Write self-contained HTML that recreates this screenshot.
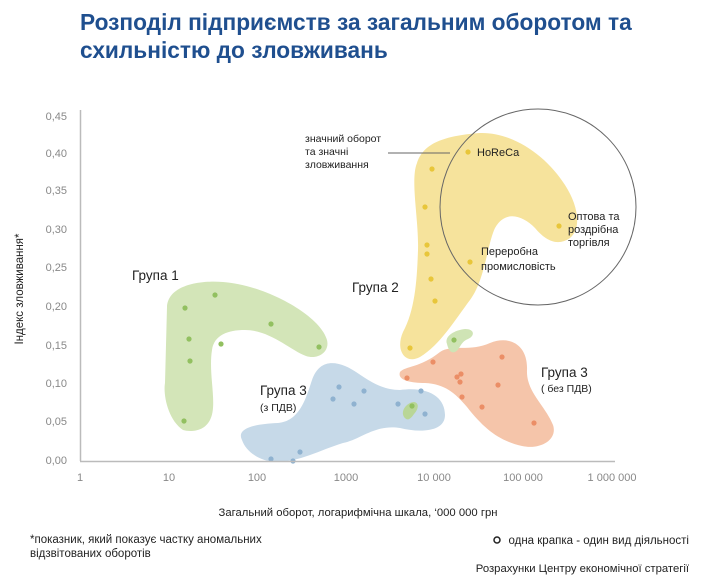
<!DOCTYPE html>
<html><head><meta charset="utf-8">
<style>
html,body{margin:0;padding:0;background:#fff;}
svg{display:block;font-family:"Liberation Sans",sans-serif;}
</style></head><body>
<svg width="720" height="585" viewBox="0 0 720 585" xmlns="http://www.w3.org/2000/svg">
<rect width="720" height="585" fill="#fff"/>
<text x="80" y="30" font-size="22.7" font-weight="bold" fill="#1f4f8f">Розподіл підприємств за загальним оборотом  та</text>
<text x="80" y="58" font-size="22.7" font-weight="bold" fill="#1f4f8f">схильністю до зловживань</text>

<path d="M167,307 C168,285 200,280 223,282 C265,285 320,315 327,340 C330,352 318,360 306,356 C290,350 270,330 245,330 C228,330 214,335 212,350 C208,375 218,405 210,420 C204,432 190,432 183,430 C168,420 163,395 165,383 Z" fill="#d3e5b8"/>
<path d="M242,440 C236,428 255,424 278,423 C300,421 306,398 312,380 C318,363 330,360 345,366 C360,372 375,390 400,390 C430,386 445,398 445,415 C445,432 420,433 400,428 C375,424 360,440 343,443 C320,450 300,462 275,462 C260,461 246,452 242,440 Z" fill="#c6d9e8"/>
<path d="M403,332 C415,310 417,280 418,250 C419,220 410,180 417,163 C423,145 440,136 480,133 C515,132 548,158 565,185 C578,205 582,228 570,238 C557,247 545,240 535,228 C522,215 505,210 495,228 C487,245 485,280 470,300 C455,320 440,345 420,357 C405,365 395,350 403,332 Z" fill="#f6e39c"/>
<path d="M400,372 C405,366 420,368 440,352 C452,344 470,352 490,343 C510,335 528,345 527,370 C526,392 545,405 553,425 C558,440 540,450 522,446 C500,441 485,430 467,407 C455,393 445,384 425,383 C410,383 397,380 400,372 Z" fill="#f5c5aa"/>
<path d="M447,344 C444,336 455,330 465,329 C475,329 475,336 468,339 C460,342 460,350 455,352 C450,354 448,348 447,344 Z" fill="#cfe4b5"/>
<path d="M404,417 C400,410 408,402 414,402 C420,403 418,410 414,414 C410,420 407,421 404,417 Z" fill="#b9d697"/>

<circle cx="538" cy="207" r="98" fill="none" stroke="#666" stroke-width="1"/>
<line x1="388" y1="153" x2="450" y2="153" stroke="#666" stroke-width="1"/>

<g fill="#92c060">
<circle cx="185" cy="308" r="2.6"/><circle cx="215" cy="295" r="2.6"/><circle cx="189" cy="339" r="2.6"/><circle cx="221" cy="344" r="2.6"/><circle cx="190" cy="361" r="2.6"/><circle cx="271" cy="324" r="2.6"/><circle cx="319" cy="347" r="2.6"/><circle cx="184" cy="421" r="2.6"/><circle cx="412" cy="406" r="2.6"/><circle cx="454" cy="340" r="2.6"/>
</g>
<g fill="#e8c63a">
<circle cx="468" cy="152" r="2.6"/><circle cx="432" cy="169" r="2.6"/><circle cx="425" cy="207" r="2.6"/><circle cx="427" cy="245" r="2.6"/><circle cx="427" cy="254" r="2.6"/><circle cx="431" cy="279" r="2.6"/><circle cx="435" cy="301" r="2.6"/><circle cx="410" cy="348" r="2.6"/><circle cx="470" cy="262" r="2.6"/><circle cx="559" cy="226" r="2.6"/>
</g>
<g fill="#8fb2d0">
<circle cx="339" cy="387" r="2.6"/><circle cx="333" cy="399" r="2.6"/><circle cx="354" cy="404" r="2.6"/><circle cx="364" cy="391" r="2.6"/><circle cx="300" cy="452" r="2.6"/><circle cx="271" cy="459" r="2.6"/><circle cx="293" cy="461" r="2.6"/><circle cx="421" cy="391" r="2.6"/><circle cx="398" cy="404" r="2.6"/><circle cx="425" cy="414" r="2.6"/>
</g>
<g fill="#eb8e66">
<circle cx="407" cy="378" r="2.6"/><circle cx="433" cy="362" r="2.6"/><circle cx="457" cy="377" r="2.6"/><circle cx="461" cy="374" r="2.6"/><circle cx="460" cy="382" r="2.6"/><circle cx="462" cy="397" r="2.6"/><circle cx="482" cy="407" r="2.6"/><circle cx="498" cy="385" r="2.6"/><circle cx="502" cy="357" r="2.6"/><circle cx="534" cy="423" r="2.6"/>
</g>

<line x1="80.5" y1="110" x2="80.5" y2="461" stroke="#bbb" stroke-width="1.5"/>
<line x1="80" y1="461.5" x2="615" y2="461.5" stroke="#bbb" stroke-width="1.5"/>
<g font-size="11" fill="#888" text-anchor="end">
<text x="67" y="120">0,45</text><text x="67" y="157">0,40</text><text x="67" y="194">0,35</text><text x="67" y="233">0,30</text><text x="67" y="271">0,25</text><text x="67" y="310">0,20</text><text x="67" y="349">0,15</text><text x="67" y="387">0,10</text><text x="67" y="425">0,05</text><text x="67" y="464">0,00</text>
</g>
<g font-size="11" fill="#888" text-anchor="middle">
<text x="80" y="481">1</text><text x="169" y="481">10</text><text x="257" y="481">100</text><text x="346" y="481">1000</text><text x="434" y="481">10 000</text><text x="523" y="481">100 000</text><text x="612" y="481">1 000 000</text>
</g>
<text transform="translate(23,289) rotate(-90)" font-size="11.5" text-anchor="middle" fill="#222">Індекс зловживання*</text>
<text x="358" y="516" font-size="11.3" text-anchor="middle" fill="#222">Загальний оборот, логарифмічна шкала, ‘000 000 грн</text>

<g fill="#222">
<text x="132" y="280" font-size="13.5">Група 1</text>
<text x="352" y="292" font-size="13.5">Група 2</text>
<text x="260" y="395" font-size="13.5">Група 3</text>
<text x="260" y="411" font-size="10.5">(з ПДВ)</text>
<text x="541" y="377" font-size="13.5">Група 3</text>
<text x="541" y="392" font-size="10.5">( без ПДВ)</text>
<text x="305" y="142" font-size="10.5">значний оборот</text>
<text x="305" y="155" font-size="10.5">та значні</text>
<text x="305" y="168" font-size="10.5">зловживання</text>
<text x="477" y="156" font-size="11">HoReCa</text>
<text x="568" y="220" font-size="11">Оптова та</text>
<text x="568" y="233" font-size="11">роздрібна</text>
<text x="568" y="246" font-size="11">торгівля</text>
<text x="481" y="255" font-size="11">Переробна</text>
<text x="481" y="270" font-size="11">промисловість</text>
<text x="30" y="543" font-size="11.5">*показник, який показує частку аномальних</text>
<text x="30" y="557" font-size="11.5">відзвітованих оборотів</text>
<circle cx="497" cy="540" r="3" fill="none" stroke="#222" stroke-width="1.5"/>
<text x="689" y="544" font-size="11.5" text-anchor="end">одна крапка - один вид діяльності</text>
<text x="689" y="572" font-size="11.3" text-anchor="end">Розрахунки Центру економічної стратегії</text>
</g>
</svg>
</body></html>
